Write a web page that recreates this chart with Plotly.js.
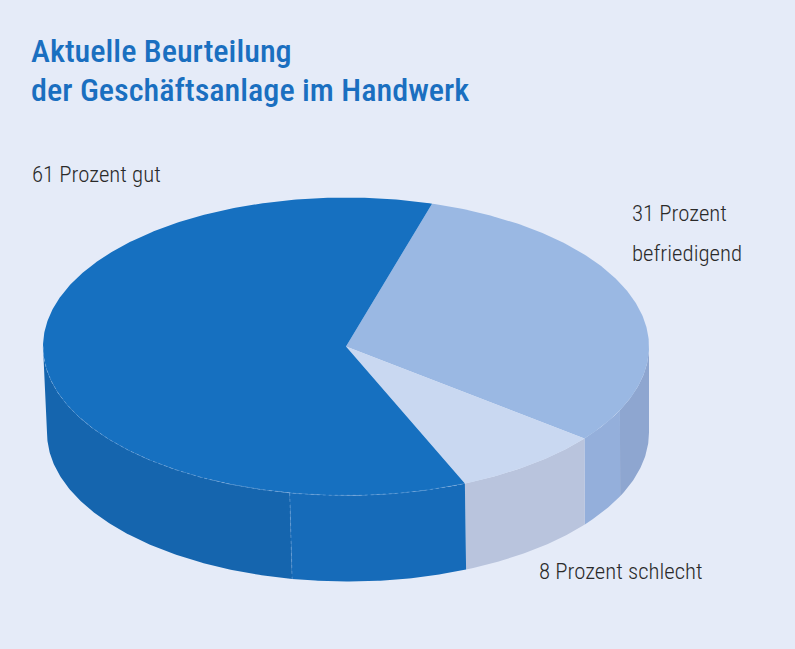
<!DOCTYPE html>
<html>
<head>
<meta charset="utf-8">
<script src="https://cdn.plot.ly/plotly-3.0.1.min.js"></script>
<style>
html,body{margin:0;padding:0;background:#e5ebf8;}
#chart{width:795px;height:649px;}
</style>
</head>
<body>
<div id="chart"></div>
<script>
// ---- data ----
const categories = ['befriedigend', 'schlecht', 'gut'];
const shares = [31, 8, 61];
const labelTexts = ['31 Prozent<br>befriedigend', '8 Prozent schlecht', '61 Prozent gut'];
const titleLines = ['Aktuelle Beurteilung', 'der Geschäftsanlage im Handwerk'];

// ---- style ----
const topColors = ['#9ab8e3', '#c9d8f1', '#1670c0'];
const sideColors = [['#94afdb', '#8ea6d0'], ['#b9c4dd', '#b9c4dd'], ['#1565ae', '#166bb9']];
const sideSplit = [-25.3, null, -100.7]; // facet seam (degrees) per slice
const startAngle = 73.5;
const cx = 346, cy = 346.5, a = 303, b = 149, depth = 86;
const bcx = 348, ba = 301, bb = 149;
const FONT = '"Roboto Condensed", "Liberation Sans Narrow", "DejaVu Sans Condensed", sans-serif';

const rad = d => d * Math.PI / 180;
function topPt(t) { return [cx + a * Math.cos(rad(t)), cy - b * Math.sin(rad(t))]; }
function botPt(t) { return [bcx + ba * Math.cos(rad(t)), cy + depth - bb * Math.sin(rad(t))]; }
function arc(fn, t1, t2) {
  const pts = []; const n = Math.max(2, Math.ceil(Math.abs(t2 - t1) / 0.5));
  for (let i = 0; i <= n; i++) pts.push(fn(t1 + (t2 - t1) * i / n));
  return pts;
}
function poly(pts, color) {
  return { type: 'scatter', mode: 'lines', x: pts.map(p => p[0]), y: pts.map(p => p[1]),
    fill: 'toself', fillcolor: color, line: { width: 0, color: color }, hoverinfo: 'skip', showlegend: false };
}

// slice angles from shares
const total = shares.reduce((s, v) => s + v, 0);
const ranges = []; let s = startAngle;
shares.forEach(v => { const e = s - v / total * 360; ranges.push([s, e]); s = e; });

const sideTraces = [], topTraces = [];
ranges.forEach(([s0, e0], i) => {
  const lo = Math.max(e0, -180), hi = Math.min(s0, 0);
  if (hi > lo) {
    let parts;
    if (sideSplit[i] === null) parts = [[lo, hi, sideColors[i][0]]];
    else {
      const sp = Math.min(Math.max(sideSplit[i], lo), hi);
      parts = [[lo, sp, sideColors[i][0]], [sp, hi, sideColors[i][1]]];
    }
    parts.forEach(([p1, p2, col]) => {
      if (p2 - p1 <= 0.01) return;
      const pts = arc(topPt, p1, p2).concat(arc(botPt, p2, p1));
      sideTraces.push(poly(pts, col));
    });
  }
  const pts = [[cx, cy]].concat(arc(topPt, s0, e0));
  topTraces.push(poly(pts, topColors[i]));
});

// faint seam lines on the dark slice
const gi = 2;
const seamArc = arc(topPt, -180, ranges[1][1]);
const seam = { type: 'scatter', mode: 'lines', x: seamArc.map(p => p[0]), y: seamArc.map(p => p[1]),
  line: { width: 0.8, color: 'rgba(150,185,230,0.55)', dash: '3px,3px' }, hoverinfo: 'skip', showlegend: false };
const sp1 = topPt(sideSplit[gi]), sp2 = botPt(sideSplit[gi]);
const seam2 = { type: 'scatter', mode: 'lines', x: [sp1[0], sp2[0]], y: [sp1[1], sp2[1]],
  line: { width: 0.8, color: 'rgba(150,185,230,0.5)', dash: '3px,3px' }, hoverinfo: 'skip', showlegend: false };

// label anchors: [x, baseline of first line]
const labelPos = [[630, 222], [537, 580], [30, 183]];
const LABEL_SIZE = 22.8, LABEL_GAP = 40;
const annotations = [];
labelTexts.forEach((t, i) => {
  t.split('<br>').forEach((line, k) => {
    annotations.push({ text: line, x: labelPos[i][0], y: labelPos[i][1] + k * LABEL_GAP - 0.38 * LABEL_SIZE,
      xref: 'x', yref: 'y', xanchor: 'left', yanchor: 'middle', showarrow: false,
      font: { family: FONT, size: LABEL_SIZE, color: '#2a2a2a', weight: 300 } });
  });
});
const TITLE_SIZE = 32.2;
titleLines.forEach((line, k) => {
  annotations.push({ text: line, x: 29, y: 63 + k * 39 - 0.38 * TITLE_SIZE,
    xref: 'x', yref: 'y', xanchor: 'left', yanchor: 'middle', showarrow: false,
    font: { family: FONT, size: TITLE_SIZE, color: '#1a6fc0', weight: 500 } });
});

const layout = {
  width: 795, height: 649,
  paper_bgcolor: '#e5ebf8', plot_bgcolor: '#e5ebf8',
  margin: { l: 0, r: 0, t: 0, b: 0 },
  xaxis: { range: [0, 795], visible: false, fixedrange: true },
  yaxis: { range: [649, 0], visible: false, fixedrange: true },
  annotations: annotations,
  showlegend: false
};

Plotly.newPlot('chart', sideTraces.concat(topTraces, [seam, seam2]), layout, { staticPlot: true, displayModeBar: false });
</script>
</body>
</html>
